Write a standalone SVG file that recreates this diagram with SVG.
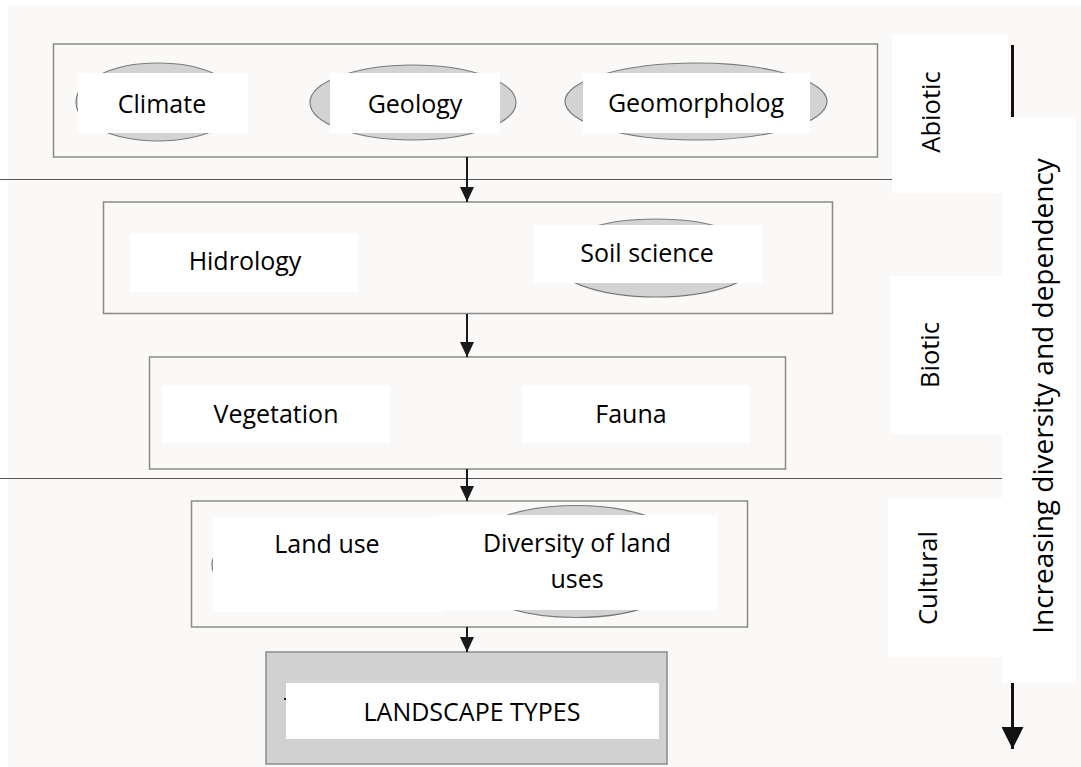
<svg xmlns="http://www.w3.org/2000/svg" width="1081" height="767" viewBox="0 0 1081 767">
  <defs>
    <marker id="tip" viewBox="0 0 15 14" refX="15" refY="7" markerWidth="15" markerHeight="14" markerUnits="userSpaceOnUse" orient="auto">
      <path d="M0,0 L15,7 L0,14 Z" fill="#1a1a1a"/>
    </marker>
    <marker id="bigtip" viewBox="0 0 22 22" refX="22" refY="11" markerWidth="22" markerHeight="22" markerUnits="userSpaceOnUse" orient="auto">
      <path d="M0,0 L22,11 L0,22 Z" fill="#111"/>
    </marker>
    <style>
      .frame { fill: #faf9f7; stroke: #8a8a8a; stroke-width: 1.5; }
      .oval { fill: #d3d3d3; stroke: #7a7a7a; stroke-width: 1.2; }
      .pad { fill: #ffffff; }
      .lbl { font-family: "Open Sans", "Liberation Sans", sans-serif; font-size: 25px; fill: #000; text-anchor: middle; }
      .side { font-family: "Open Sans", "Liberation Sans", sans-serif; font-size: 25.5px; fill: #000; text-anchor: middle; }
      .flow { stroke: #1a1a1a; stroke-width: 2; fill: none; }
      .rule { stroke: #555; stroke-width: 1.2; }
    </style>
  </defs>

  <!-- page -->
  <rect x="0" y="0" width="1081" height="767" fill="#ffffff"/>
  <rect x="8" y="5" width="1073" height="762" fill="#faf9f7"/>

  <!-- section dividers -->
  <g id="dividers">
    <line class="rule" x1="0" y1="179.5" x2="892" y2="179.5"/>
    <line class="rule" x1="0" y1="478.5" x2="1002" y2="478.5"/>
  </g>

  <!-- abiotic tier -->
  <g id="abiotic">
    <rect class="frame" x="53.5" y="44" width="824" height="113"/>
    <g id="climate">
      <ellipse class="oval" cx="158" cy="102" rx="82" ry="39"/>
      <rect class="pad" x="78" y="73" width="170" height="60"/>
      <text class="lbl" x="162" y="113">Climate</text>
    </g>
    <g id="geology">
      <ellipse class="oval" cx="413" cy="102.5" rx="103" ry="37.5"/>
      <rect class="pad" x="330" y="73" width="170" height="60"/>
      <text class="lbl" x="415" y="113">Geology</text>
    </g>
    <g id="geomorphology">
      <ellipse class="oval" cx="696" cy="101.5" rx="131" ry="38.5"/>
      <rect class="pad" x="583" y="73" width="227" height="60"/>
      <text class="lbl" x="696" y="112">Geomorpholog</text>
    </g>
  </g>

  <!-- hydrology / soils tier -->
  <g id="water-soil">
    <rect class="frame" x="103.5" y="202" width="729" height="111.5"/>
    <g id="hidrology">
      <rect class="pad" x="130" y="233" width="228" height="59"/>
      <text class="lbl" x="245" y="270">Hidrology</text>
    </g>
    <g id="soil-science">
      <ellipse class="oval" cx="656" cy="258" rx="105" ry="39"/>
      <rect class="pad" x="534" y="225" width="228" height="58"/>
      <text class="lbl" x="647" y="262">Soil science</text>
    </g>
  </g>

  <!-- living tier -->
  <g id="living">
    <rect class="frame" x="149.5" y="357" width="636" height="112"/>
    <g id="vegetation">
      <rect class="pad" x="162" y="385" width="228" height="58"/>
      <text class="lbl" x="276" y="423">Vegetation</text>
    </g>
    <g id="fauna">
      <rect class="pad" x="522" y="385" width="228" height="58"/>
      <text class="lbl" x="631" y="423">Fauna</text>
    </g>
  </g>

  <!-- land use tier -->
  <g id="land">
    <rect class="frame" x="191.5" y="501" width="556" height="126"/>
    <g id="land-use">
      <ellipse class="oval" cx="322" cy="565" rx="110" ry="45"/>
      <rect class="pad" x="213" y="517" width="230" height="95"/>
      <text class="lbl" x="327" y="553">Land use</text>
    </g>
    <g id="land-use-diversity">
      <ellipse class="oval" cx="576" cy="561.5" rx="122" ry="56"/>
      <rect class="pad" x="438" y="515" width="279" height="95"/>
      <text class="lbl" x="577" y="552">Diversity of land</text>
      <text class="lbl" x="577" y="588">uses</text>
    </g>
  </g>

  <!-- outcome -->
  <g id="landscape-types">
    <rect x="266" y="652" width="401" height="112" fill="#d1d1d1" stroke="#8a8a8a" stroke-width="1.5"/>
    <rect class="pad" x="286" y="683" width="373" height="56"/>
    <rect x="284" y="698" width="2" height="2" fill="#222"/>
    <text class="lbl" x="472" y="721">LANDSCAPE TYPES</text>
  </g>

  <!-- tier labels -->
  <g id="label-abiotic">
    <rect class="pad" x="892" y="34" width="116" height="159"/>
    <text class="side" transform="translate(940 112) rotate(-90)">Abiotic</text>
  </g>
  <g id="label-biotic">
    <rect class="pad" x="890" y="276" width="112" height="158"/>
    <text class="side" transform="translate(939 355) rotate(-90)">Biotic</text>
  </g>
  <g id="label-cultural">
    <rect class="pad" x="888" y="498" width="114" height="159"/>
    <text class="side" transform="translate(937 578) rotate(-90)">Cultural</text>
  </g>

  <!-- connectors -->
  <g id="connectors">
    <line class="flow" x1="467" y1="157" x2="467" y2="202" marker-end="url(#tip)"/>
    <line class="flow" x1="467" y1="314" x2="467" y2="357" marker-end="url(#tip)"/>
    <line class="flow" x1="467" y1="469" x2="467" y2="501" marker-end="url(#tip)"/>
    <line class="flow" x1="467" y1="627" x2="467" y2="652" marker-end="url(#tip)"/>
    <line x1="1012.5" y1="45" x2="1012.5" y2="749" stroke="#111" stroke-width="3" marker-end="url(#bigtip)"/>
  </g>

  <!-- trend label over the long arrow -->
  <g id="label-trend">
    <rect class="pad" x="1002" y="117" width="74" height="566"/>
    <text class="side" style="font-size:28px" transform="translate(1053 396) rotate(-90)">Increasing diversity and dependency</text>
  </g>
</svg>
